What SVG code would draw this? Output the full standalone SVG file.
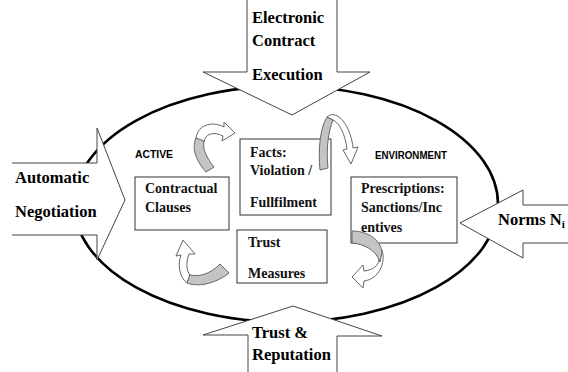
<svg xmlns="http://www.w3.org/2000/svg" width="568" height="372" viewBox="0 0 568 372">
<style>
.big{font-family:'Liberation Serif','Times New Roman','DejaVu Serif',serif;font-weight:bold;font-size:16.5px;fill:#000}
.bx{font-family:'Liberation Serif','Times New Roman','DejaVu Serif',serif;font-weight:bold;font-size:14px;fill:#111}
.lab{font-family:'Liberation Sans',Arial,sans-serif;font-weight:bold;font-size:11px;fill:#000}
.box{fill:#fff;stroke:#333;stroke-width:1}
.afill{fill:#fff;stroke:none}
.aline{fill:none;stroke:#444;stroke-width:1}
.cw{fill:#fff;stroke:#666;stroke-width:1}
.cg{fill:#c4c4c4;stroke:#666;stroke-width:1}
</style>
<rect width="568" height="372" fill="#fff"/>
<g id="cycle">
<ellipse cx="286" cy="204" rx="212" ry="118" fill="none" stroke="#000" stroke-width="2.6"/>
</g>
<g id="arrow-execution">
<polygon class="afill" points="247,0 247,72 203,72 292,115 370,72 337,72 337,0"/>
<polyline class="aline" points="247,0 247,72 203,72 292,115 370,72 337,72 337,0"/>
<text class="big" x="252" y="23">Electronic</text>
<text class="big" x="252" y="46">Contract</text>
<text class="big" x="252" y="80">Execution</text>
</g>
<g id="arrow-negotiation">
<polygon class="afill" points="12,163 97,163 97,128 125,200 97,260 97,235 12,235"/>
<polyline class="aline" points="12,163 97,163 97,128 125,200 97,260 97,235 12,235"/>
<text class="big" x="15" y="183">Automatic</text>
<text class="big" x="15" y="217">Negotiation</text>
</g>
<g id="arrow-norms">
<polygon class="afill" points="568,205 523,205 523,190 460,223 523,258 523,243 568,243"/>
<polyline class="aline" points="568,205 523,205 523,190 460,223 523,258 523,243 568,243"/>
<text class="big" x="498" y="225">Norms N<tspan font-size="11" dy="3">i</tspan></text>
</g>
<g id="arrow-trust">
<polygon class="afill" points="248,372 248,335 203,335 293,306 382,336 337,336 337,372"/>
<polyline class="aline" points="248,372 248,335 203,335 293,306 382,336 337,336 337,372"/>
<text class="big" x="252" y="338">Trust &amp;</text>
<text class="big" x="252" y="360">Reputation</text>
</g>
<g id="label-active">
<text class="lab" x="135" y="158" textLength="38" lengthAdjust="spacingAndGlyphs">ACTIVE</text>
</g>
<g id="label-environment">
<text class="lab" x="375" y="159" textLength="72" lengthAdjust="spacingAndGlyphs">ENVIRONMENT</text>
</g>
<g id="box-clauses">
<rect class="box" x="135" y="177" width="94" height="53"/>
<text class="bx" x="145" y="193">Contractual</text>
<text class="bx" x="145" y="212">Clauses</text>
</g>
<g id="box-facts">
<rect class="box" x="240" y="139" width="91" height="76"/>
<text class="bx" x="250" y="157">Facts:</text>
<text class="bx" x="250" y="175">Violation /</text>
<text class="bx" x="250" y="207">Fullfilment</text>
</g>
<g id="box-prescriptions">
<rect class="box" x="351" y="177" width="106" height="66"/>
<text class="bx" x="361" y="193">Prescriptions:</text>
<text class="bx" x="361" y="212">Sanctions/Inc</text>
<text class="bx" x="361" y="232">entives</text>
</g>
<g id="box-trust-measures">
<rect class="box" x="237" y="230" width="90" height="53"/>
<text class="bx" x="248" y="247">Trust</text>
<text class="bx" x="248" y="278">Measures</text>
</g>
<g id="connectors">
<path class="cw" d="M196,140 C196,126 211,120 224,127 L224,122 L235,133 L222,141 L223,136 C213,131 205,134 204,142 Z"/>
<path class="cg" d="M196,138 C191,149 197,162 206,172 L214,167 C207,158 202,149 204,141 Z"/>
<path class="cw" d="M327,117 C337,108 351,126 353,148 L358,147 L351,164 L343,150 L347,149 C345,133 339,123 333,120 Z"/>
<path class="cg" d="M320,170 C318,150 320,128 327,117 L333,120 C328,132 326,150 328,168 Z"/>
<path class="cw" d="M382,250 C386,263 379,279 364,281 L363,288 L352,277 L363,265 L364,271 C373,270 378,266 379,260 Z"/>
<path class="cg" d="M352,231 C366,231 380,238 382,252 L380,262 C376,250 364,244 352,243 Z"/>
<path class="cw" d="M190,275 C186,270 186,262 189,254 L195,254 L183,240 L176,256 L181,255 C177,265 180,278 187,283 Z"/>
<path class="cg" d="M220,264 C210,274 200,277 190,275 L187,283 C200,288 218,282 229,273 Z"/>
</g>
</svg>
